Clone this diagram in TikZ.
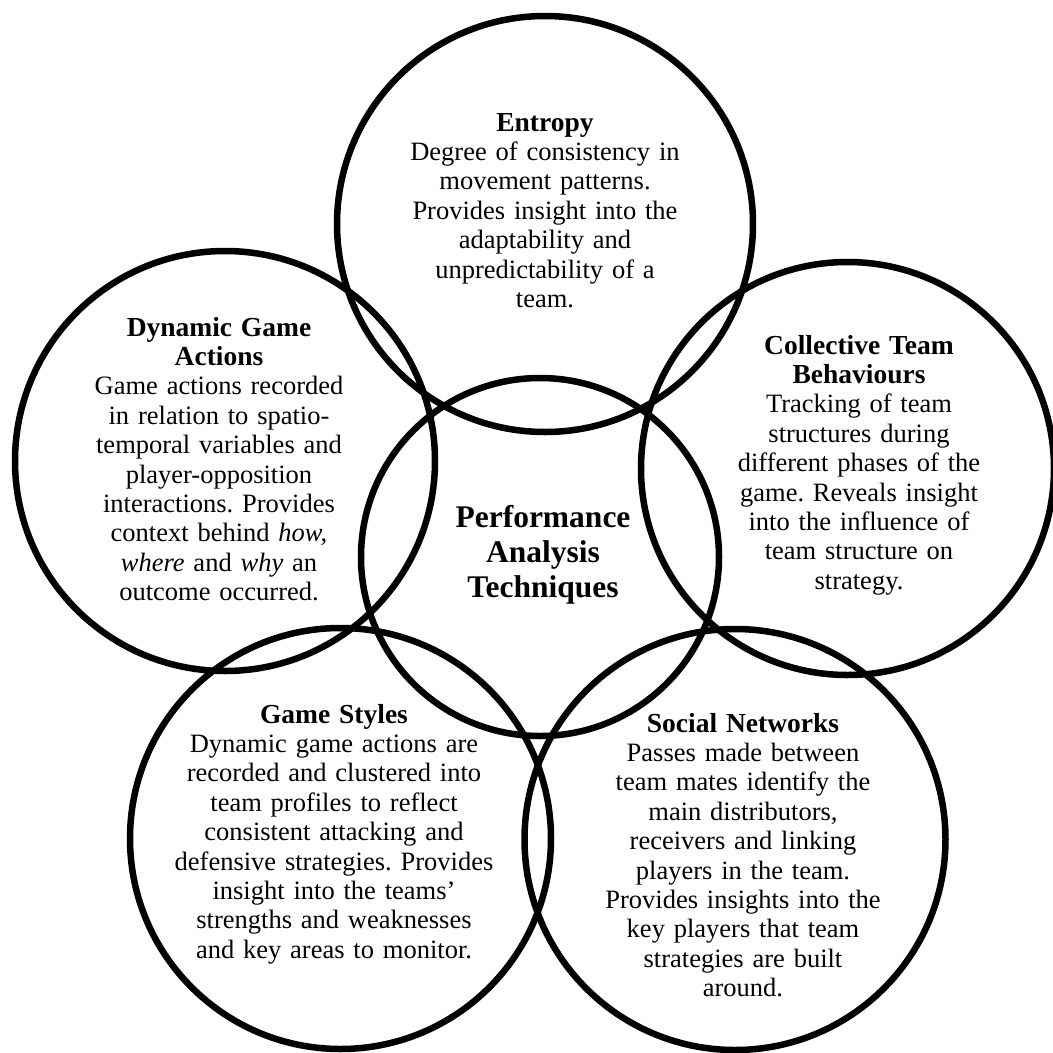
\documentclass[tikz,border=0pt]{standalone}
\usepackage{fontspec}
\setmainfont{Liberation Serif}
\frenchspacing
\begin{document}
\begin{tikzpicture}[x=1pt,y=-1pt,
  ring/.style={line width=6.5pt},
  blurb/.style={text width=440pt, align=center, inner sep=0pt, anchor=base,
    font=\fontsize{26.5}{29.4}\selectfont},
  hub/.style={text width=300pt, align=center, inner sep=0pt, anchor=base,
    font=\fontsize{31.5}{35}\selectfont\bfseries}]
\newcommand\hd[1]{{\fontsize{27.5}{27}\selectfont\bfseries #1}}
\useasboundingbox (0,0) rectangle (1053,1053);
\fill[white] (0,0) rectangle (1053,1053);

% the six overlapping rings
\draw[ring] (545,224) circle[radius=208pt];
\draw[ring] (225,461) circle[radius=210pt];
\draw[ring] (847.5,468.5) circle[radius=206.5pt];
\draw[ring] (540,557) circle[radius=179pt];
\draw[ring] (340.5,838.5) circle[radius=210.5pt];
\draw[ring] (735,839.5) circle[radius=210.5pt];

% texts of the rings
\node[blurb] (entropy) at (545,131) {\hd{Entropy}\\
  Degree of consistency in\\ movement patterns.\\ Provides insight into the\\
  adaptability and\\ unpredictability of a\\ team.};

\node[blurb] (dga) at (219,336) {\hd{Dynamic Game}\\ \hd{Actions}\\
  Game actions recorded\\ in relation to spatio-\\ temporal variables and\\
  player-opposition\\ interactions. Provides\\ context behind \textit{how,}\\
  \textit{where} and \textit{why} an\\ outcome occurred.};

\node[blurb] (ctb) at (859,354) {\hd{Collective Team}\\ \hd{Behaviours}\\
  Tracking of team\\ structures during\\ different phases of the\\
  game. Reveals insight\\ into the influence of\\ team structure on\\ strategy.};

\node[hub] (pat) at (543,527) {Performance\\ Analysis\\ Techniques};

\node[blurb] (gs) at (334,723) {\hd{Game Styles}\\
  Dynamic game actions are\\ recorded and clustered into\\ team profiles to reflect\\
  consistent attacking and\\ defensive strategies. Provides\\ insight into the teams’\\
  strengths and weaknesses\\ and key areas to monitor.};

\node[blurb] (sn) at (743,732) {\hd{Social Networks}\\
  Passes made between\\ team mates identify the\\ main distributors,\\
  receivers and linking\\ players in the team.\\ Provides insights into the\\
  key players that team\\ strategies are built\\ around.};
\end{tikzpicture}
\end{document}
